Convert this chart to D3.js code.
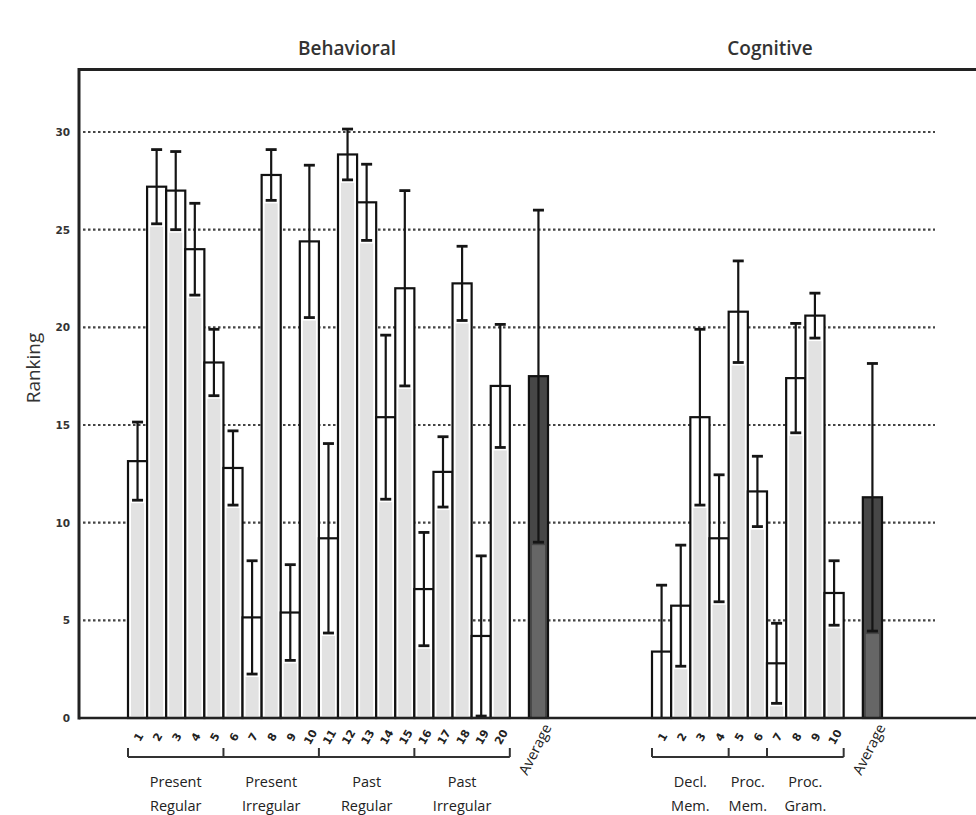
<!DOCTYPE html>
<html>
<head>
<meta charset="utf-8">
<script src="https://cdn.jsdelivr.net/npm/d3@7"></script>
<style>
  html, body { margin: 0; padding: 0; background: #fff; }
  svg { display: block; }
</style>
</head>
<body>
<svg id="chart" width="976" height="815"></svg>
<script>
// ---------- data ----------
const behavioralLabels = ["1","2","3","4","5","6","7","8","9","10","11","12","13","14","15","16","17","18","19","20"];
const behavioralMeans  = [13.15, 27.2, 27.0, 24.0, 18.2, 12.8, 5.15, 27.8, 5.4, 24.4, 9.2, 28.85, 26.4, 15.4, 22.0, 6.6, 12.6, 22.25, 4.2, 17.0];
const behavioralErrors = [2.0, 1.9, 2.0, 2.35, 1.7, 1.9, 2.9, 1.3, 2.45, 3.9, 4.85, 1.3, 1.95, 4.2, 5.0, 2.9, 1.8, 1.9, 4.1, 3.15];
const behavioralAverage = 17.5;
const behavioralAverageError = 8.5;
const behavioralGroups = [
  {label: ["Present", "Regular"], from: "1", to: "5"},
  {label: ["Present", "Irregular"], from: "6", to: "10"},
  {label: ["Past", "Regular"], from: "11", to: "15"},
  {label: ["Past", "Irregular"], from: "16", to: "20"}
];

const cognitiveLabels = ["1","2","3","4","5","6","7","8","9","10"];
const cognitiveMeans  = [3.4, 5.75, 15.4, 9.2, 20.8, 11.6, 2.8, 17.4, 20.6, 6.4];
const cognitiveErrors = [3.4, 3.1, 4.5, 3.25, 2.6, 1.8, 2.05, 2.8, 1.15, 1.65];
const cognitiveAverage = 11.3;
const cognitiveAverageError = 6.85;
const cognitiveGroups = [
  {label: ["Decl.", "Mem."], from: "1", to: "4"},
  {label: ["Proc.", "Mem."], from: "5", to: "6"},
  {label: ["Proc.", "Gram."], from: "7", to: "10"}
];

const yTicks = [0, 5, 10, 15, 20, 25, 30];
const panelTitles = ["Behavioral", "Cognitive"];
const yAxisTitle = "Ranking";

// ---------- layout ----------
const svg = d3.select("#chart");
const y = d3.scaleLinear().domain([0, 30]).range([718, 132]);
const axisX = 79, frameTop = y(33.2), rightEdge = 976;

const xB = d3.scaleBand().domain([...behavioralLabels, "gap", "Average"]).range([128, 548]).padding(0);
const xC = d3.scaleBand().domain([...cognitiveLabels, "gap", "Average"]).range([652, 882]).padding(0);

// gridlines
svg.append("g").selectAll("line")
  .data(yTicks.filter(t => t > 0))
  .join("line")
  .attr("x1", axisX + 4).attr("x2", 935)
  .attr("y1", d => y(d)).attr("y2", d => y(d))
  .attr("stroke", "#444").attr("stroke-width", 2.2)
  .attr("stroke-dasharray", "2.5,2.5");

function drawPanel(x, labels, means, errs, avg, avgErr, groups) {
  const data = labels.map((l, i) => ({key: l, mean: means[i], err: errs[i], avg: false}));
  data.push({key: "Average", mean: avg, err: avgErr, avg: true});
  const bw = x.bandwidth();
  const g = svg.append("g");

  // outer bars
  g.selectAll("rect.outer").data(data).join("rect")
    .attr("class", "outer")
    .attr("x", d => x(d.key)).attr("width", bw)
    .attr("y", d => y(d.mean)).attr("height", d => y(0) - y(d.mean))
    .attr("fill", d => d.avg ? "#474747" : "#fff")
    .attr("stroke", "#111").attr("stroke-width", 2.2);

  // inner fill up to lower whisker
  g.selectAll("rect.inner").data(data.filter(d => d.mean - d.err > 0.05)).join("rect")
    .attr("class", "inner")
    .attr("x", d => x(d.key) + 3).attr("width", bw - 6)
    .attr("y", d => y(d.mean - d.err) + 3)
    .attr("height", d => Math.max(0, y(0) - y(d.mean - d.err) - 4))
    .attr("fill", d => d.avg ? "#666" : "#e2e2e2");

  // whiskers
  const w = g.selectAll("g.err").data(data).join("g").attr("class", "err")
    .attr("stroke", "#151515").attr("stroke-width", 2.2);
  const cx = d => x(d.key) + bw / 2;
  w.append("line")
    .attr("x1", cx).attr("x2", cx)
    .attr("y1", d => y(Math.max(0, d.mean - d.err))).attr("y2", d => y(d.mean + d.err));
  w.append("line")
    .attr("x1", d => cx(d) - 5.5).attr("x2", d => cx(d) + 5.5)
    .attr("y1", d => y(d.mean + d.err)).attr("y2", d => y(d.mean + d.err))
    .attr("stroke-width", 2.8);
  w.filter(d => d.mean - d.err > 0.05).append("line")
    .attr("x1", d => cx(d) - 5.5).attr("x2", d => cx(d) + 5.5)
    .attr("y1", d => y(d.mean - d.err)).attr("y2", d => y(d.mean - d.err))
    .attr("stroke-width", 2.8);

  // number labels
  g.selectAll("text.num").data(labels).join("text")
    .attr("class", "num")
    .attr("transform", d => `translate(${x(d) + bw / 2 + 1},737) rotate(-60)`)
    .attr("text-anchor", "middle").attr("dy", "0.35em")
    .attr("font-family", "DejaVu Sans").attr("font-weight", "bold")
    .attr("font-size", 11).attr("fill", "#222")
    .text(d => d);

  // Average label
  g.append("text")
    .attr("transform", `translate(${x("Average") + bw / 2 + 9},725) rotate(-63)`)
    .attr("text-anchor", "end").attr("dy", "0.35em")
    .attr("font-family", "Open Sans").attr("font-size", 14.5).attr("fill", "#222")
    .text("Average");

  // brackets
  const bY = 757, bTop = 748;
  const x0 = x(labels[0]), x1 = x(labels[labels.length - 1]) + bw;
  g.append("line").attr("x1", x0).attr("x2", x1).attr("y1", bY).attr("y2", bY)
    .attr("stroke", "#333").attr("stroke-width", 2);
  const ticksX = [x0, ...groups.slice(1).map(gr => x(gr.from)), x1];
  g.selectAll("line.bt").data(ticksX).join("line").attr("class", "bt")
    .attr("x1", d => d).attr("x2", d => d).attr("y1", bTop).attr("y2", bY)
    .attr("stroke", "#333").attr("stroke-width", 2);

  // group labels
  const gl = g.selectAll("text.grp").data(groups).join("text").attr("class", "grp")
    .attr("x", gr => (x(gr.from) + x(gr.to) + bw) / 2)
    .attr("text-anchor", "middle")
    .attr("font-family", "Open Sans").attr("font-size", 14.5).attr("fill", "#222");
  gl.append("tspan").attr("y", 787).attr("x", gr => (x(gr.from) + x(gr.to) + bw) / 2).text(gr => gr.label[0]);
  gl.append("tspan").attr("y", 811).attr("x", gr => (x(gr.from) + x(gr.to) + bw) / 2).text(gr => gr.label[1]);
}

drawPanel(xB, behavioralLabels, behavioralMeans, behavioralErrors, behavioralAverage, behavioralAverageError, behavioralGroups);
drawPanel(xC, cognitiveLabels, cognitiveMeans, cognitiveErrors, cognitiveAverage, cognitiveAverageError, cognitiveGroups);

// y axis tick labels
const yAxis = d3.axisLeft(y).tickValues(yTicks).tickSize(0).tickPadding(0).tickFormat(d3.format("d"));
const ya = svg.append("g").attr("transform", `translate(${axisX - 9},0)`).call(yAxis);
ya.select(".domain").remove();
ya.selectAll("text").attr("font-family", "DejaVu Sans").attr("font-weight", "bold")
  .attr("font-size", 10.5).attr("fill", "#333");

// frame
svg.append("line").attr("x1", axisX).attr("x2", rightEdge).attr("y1", frameTop).attr("y2", frameTop)
  .attr("stroke", "#222").attr("stroke-width", 3);
svg.append("line").attr("x1", axisX).attr("x2", axisX).attr("y1", frameTop - 1.5).attr("y2", y(0) + 1.5)
  .attr("stroke", "#222").attr("stroke-width", 3);
svg.append("line").attr("x1", axisX).attr("x2", rightEdge).attr("y1", y(0)).attr("y2", y(0))
  .attr("stroke", "#222").attr("stroke-width", 2.5);

// titles
svg.selectAll("text.title").data(panelTitles).join("text").attr("class", "title")
  .attr("x", (d, i) => i === 0 ? 347 : 770).attr("y", 55)
  .attr("text-anchor", "middle")
  .attr("font-family", "Open Sans").attr("font-weight", 600).attr("font-size", 19).attr("fill", "#333")
  .text(d => d);

svg.append("text")
  .attr("transform", "translate(40,368) rotate(-90)")
  .attr("text-anchor", "middle")
  .attr("font-family", "Open Sans").attr("font-size", 19).attr("fill", "#333")
  .text(yAxisTitle);
</script>
</body>
</html>
